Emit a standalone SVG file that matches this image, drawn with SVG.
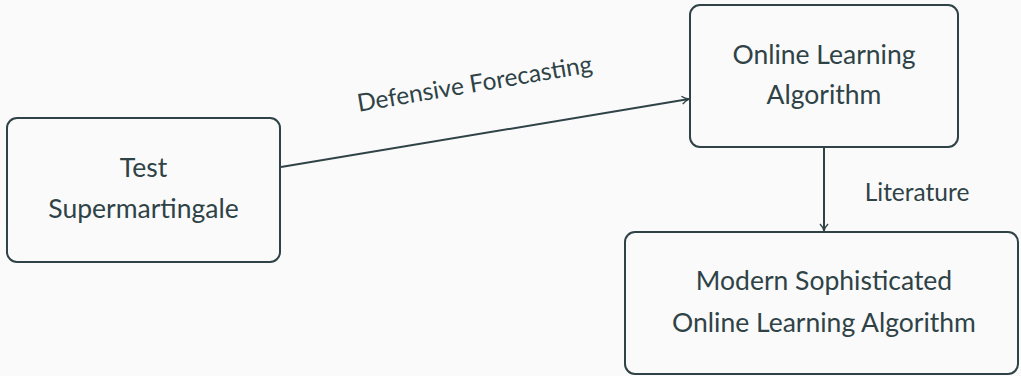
<svg xmlns="http://www.w3.org/2000/svg" width="1021" height="376" viewBox="0 0 1021 376">
  <style>
    .box { fill: #fafafa; stroke: #2f4347; stroke-width: 2; }
    .lbl { font-family: Lato, "Noto Sans", sans-serif; fill: #2f4347; text-anchor: middle; }
    .big { font-size: 26.5px; }
    .small { font-size: 24.5px; }
    .edge { fill: none; stroke: #2f4347; stroke-width: 2; }
  </style>
  <defs>
    <marker id="arrow" viewBox="0 0 10 10" refX="9" refY="5" markerWidth="10" markerHeight="10" markerUnits="userSpaceOnUse" orient="auto">
      <path d="M2,1 Q5,4 9,5 Q5,6 2,9" fill="none" stroke="#2f4347" stroke-width="1.4"/>
    </marker>
  </defs>
  <rect width="1021" height="376" fill="#fafafa"/>

  <g id="test-supermartingale">
    <rect class="box" x="7" y="118" width="273" height="144" rx="10"/>
    <text class="lbl big" x="143.5" y="176.5">Test</text>
    <text class="lbl big" x="143.5" y="218">Supermartingale</text>
  </g>

  <g id="online-learning">
    <rect class="box" x="690" y="5" width="268" height="142" rx="10"/>
    <text class="lbl big" x="824" y="64">Online Learning</text>
    <text class="lbl big" x="824" y="104">Algorithm</text>
  </g>

  <g id="modern-algorithm">
    <rect class="box" x="625" y="232" width="393" height="142" rx="10"/>
    <text class="lbl big" x="824" y="290">Modern Sophisticated</text>
    <text class="lbl big" x="824" y="332">Online Learning Algorithm</text>
  </g>

  <g id="connectors">
    <path class="edge" d="M281,167 L689,99" marker-end="url(#arrow)"/>
    <text class="lbl small" transform="translate(476,92) rotate(-9.6)">Defensive Forecasting</text>
    <path class="edge" d="M824,148 L824,231" marker-end="url(#arrow)"/>
    <text class="lbl small" x="917" y="200.5">Literature</text>
  </g>
</svg>
